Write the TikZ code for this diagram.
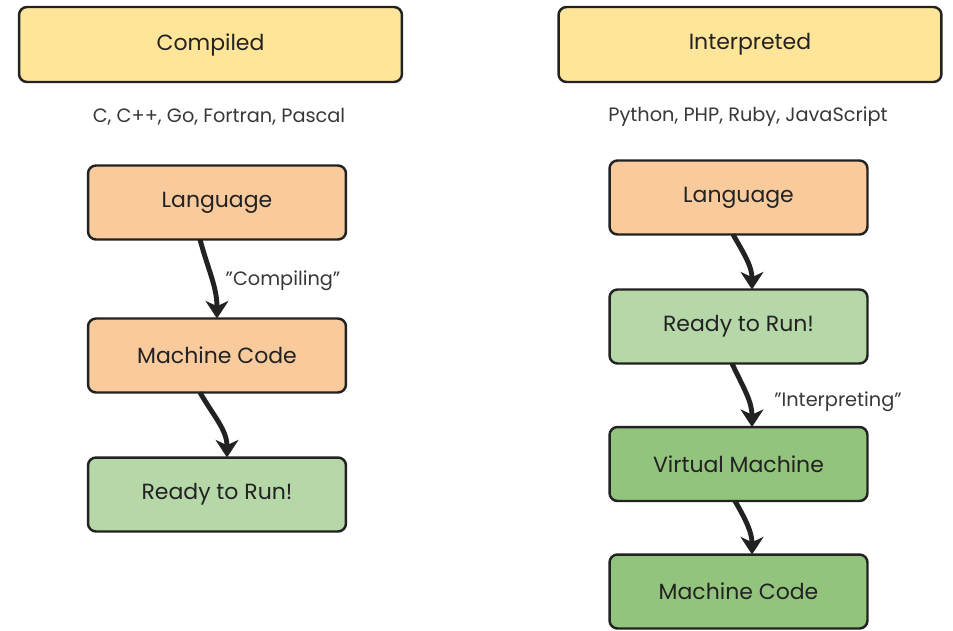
\documentclass[tikz,border=0pt]{standalone}
\usepackage{fontspec}
\setmainfont{Poppins}
\usepackage{xcolor}
\usepackage{tikz}
\usetikzlibrary{arrows.meta,positioning,shapes}

\definecolor{headyellow}{HTML}{FFE599}
\definecolor{srcorange}{HTML}{F9CB9C}
\definecolor{runlight}{HTML}{B6D7A8}
\definecolor{rungreen}{HTML}{93C47D}
\definecolor{inkdark}{HTML}{222222}

\begin{document}
\begin{tikzpicture}[x=0.02cm, y=-0.02cm,
  headbox/.style={draw=inkdark, line width=1.4pt, rounded corners=0.16cm, fill=headyellow,
    minimum width=7.66cm, minimum height=1.5cm, inner sep=0pt, outer sep=0pt,
    font=\fontsize{12.5}{15}\selectfont, text=inkdark},
  stepbox/.style={draw=inkdark, line width=1.4pt, rounded corners=0.16cm,
    minimum width=5.16cm, minimum height=1.48cm, inner sep=0pt, outer sep=0pt,
    font=\fontsize{12.5}{15}\selectfont, text=inkdark},
  langtext/.style={font=\fontsize{11}{13}\selectfont, text=inkdark!90},
  flow/.style={draw=inkdark, line width=2.8pt, -{Stealth[length=10pt,width=13pt,inset=3pt]}}]
\useasboundingbox (0,0) rectangle (953,630);

% left side
\node[headbox] (compiled) at (210.5,44.5) {Compiled};
\node[langtext] (clist) at (219,117) {C, C++, Go, Fortran, Pascal};
\node[stepbox, fill=srcorange] (clang) at (217,202.5) {Language};
\node[stepbox, fill=srcorange] (cmach) at (217,355.5) {Machine Code};
\node[stepbox, fill=runlight] (cready) at (217,494.5) {Ready to Run!};

\draw[flow] ([xshift=-0.34cm]clang.south) to[out=-75,in=90] (cmach.north);
\draw[flow] ([xshift=-0.34cm]cmach.south) to[out=-60,in=90] ([xshift=0.2cm]cready.north);
\node[langtext] (compiling) at (283,281) {\symbol{34}Compiling\symbol{34}};

% right side
\node[headbox] (interp) at (750,44.5) {Interpreted};
\node[langtext] (ilist) at (748,117) {Python, PHP, Ruby, JavaScript};
\node[stepbox, fill=srcorange] (ilang) at (738.5,197.5) {Language};
\node[stepbox, fill=runlight] (iready) at (738.5,326.5) {Ready to Run!};
\node[stepbox, fill=rungreen] (ivm) at (738.5,464) {Virtual Machine};
\node[stepbox, fill=rungreen] (imach) at (738.5,591.5) {Machine Code};

\draw[flow] ([xshift=-0.11cm]ilang.south) to[out=-60,in=90] ([xshift=0.27cm]iready.north);
\draw[flow] ([xshift=-0.13cm]iready.south) to[out=-65,in=90] ([xshift=0.27cm]ivm.north);
\draw[flow] ([xshift=-0.07cm]ivm.south) to[out=-60,in=90] ([xshift=0.27cm]imach.north);
\node[langtext] (interpreting) at (838,402) {\symbol{34}Interpreting\symbol{34}};
\end{tikzpicture}
\end{document}
